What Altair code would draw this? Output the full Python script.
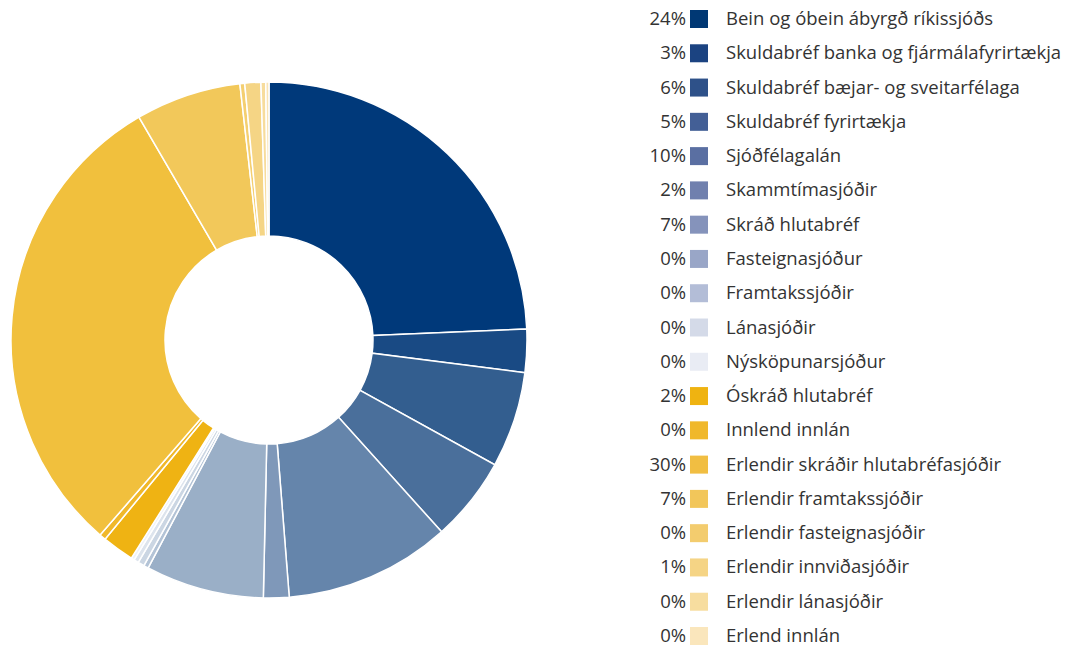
import altair as alt
import pandas as pd

categories = [
    "Bein og óbein ábyrgð ríkissjóðs",
    "Skuldabréf banka og fjármálafyrirtækja",
    "Skuldabréf bæjar- og sveitarfélaga",
    "Skuldabréf fyrirtækja",
    "Sjóðfélagalán",
    "Skammtímasjóðir",
    "Skráð hlutabréf",
    "Fasteignasjóður",
    "Framtakssjóðir",
    "Lánasjóðir",
    "Nýsköpunarsjóður",
    "Óskráð hlutabréf",
    "Innlend innlán",
    "Erlendir skráðir hlutabréfasjóðir",
    "Erlendir framtakssjóðir",
    "Erlendir fasteignasjóðir",
    "Erlendir innviðasjóðir",
    "Erlendir lánasjóðir",
    "Erlend innlán",
]
values = [24.3, 2.7, 6.0, 5.3, 10.4, 1.6, 7.4, 0.3, 0.4, 0.3, 0.2,
          2.0, 0.4, 30.2, 6.6, 0.3, 1.0, 0.3, 0.2]
pct_labels = ["24%", "3%", "6%", "5%", "10%", "2%", "7%", "0%", "0%", "0%", "0%",
              "2%", "0%", "30%", "7%", "0%", "1%", "0%", "0%"]

pie_colors = ["#00397a", "#194a84", "#335e8f", "#4a6f9b", "#6585ab", "#7f98b9",
              "#9aafc7", "#b3c3d6", "#cbd6e3", "#dde4ed", "#eef2f7",
              "#efb313", "#f0b82a", "#f1c03d", "#f2c85a", "#f4cf70", "#f5d585",
              "#f7dc9c", "#f9e4b5"]
legend_colors = ["#003874", "#1b4381", "#2e5189", "#435f96", "#5a6fa2", "#7080ae",
                 "#8593bb", "#99a6c7", "#b3bdd7", "#d4dae8", "#e9ecf4",
                 "#efb311", "#f0b82b", "#f1be42", "#f2c65a", "#f3cc6e", "#f5d485",
                 "#f7dd9f", "#fae6bc"]

df = pd.DataFrame({
    "cat": categories,
    "val": values,
    "pct": pct_labels,
    "idx": list(range(len(categories))),
})

FONT = "Open Sans"

arc = alt.Chart(df).mark_arc(
    outerRadius=258, innerRadius=104, stroke="white", strokeWidth=1.5
).encode(
    theta=alt.Theta("val:Q", stack=True),
    order=alt.Order("idx:Q"),
    color=alt.Color("cat:N", scale=alt.Scale(domain=categories, range=pie_colors), legend=None),
    x=alt.value(261),
    y=alt.value(332),
)

yscale = alt.Scale(domain=categories, range=[11, 628], type="point", padding=0)

swatch = alt.Chart(df).mark_square(size=324, opacity=1, filled=True).encode(
    x=alt.value(691),
    y=alt.Y("cat:N", scale=yscale, axis=None),
    fill=alt.Color("cat:N", scale=alt.Scale(domain=categories, range=legend_colors), legend=None),
)

pct_text = alt.Chart(df).mark_text(
    align="right", baseline="middle", font=FONT, fontSize=18.5, color="#333333"
).encode(
    x=alt.value(678),
    y=alt.Y("cat:N", scale=yscale, axis=None),
    text="pct:N",
)

lab_text = alt.Chart(df).mark_text(
    align="left", baseline="middle", font=FONT, fontSize=18.5, color="#333333"
).encode(
    x=alt.value(718),
    y=alt.Y("cat:N", scale=yscale, axis=None),
    text="cat:N",
)

chart = alt.layer(arc, swatch, pct_text, lab_text).resolve_scale(
    color="independent", fill="independent"
).properties(
    width=1057, height=639, padding=0, autosize=alt.AutoSizeParams(type="none")
).configure_view(stroke=None)

chart.save("out.html", embed_options={"renderer": "svg", "actions": False})
